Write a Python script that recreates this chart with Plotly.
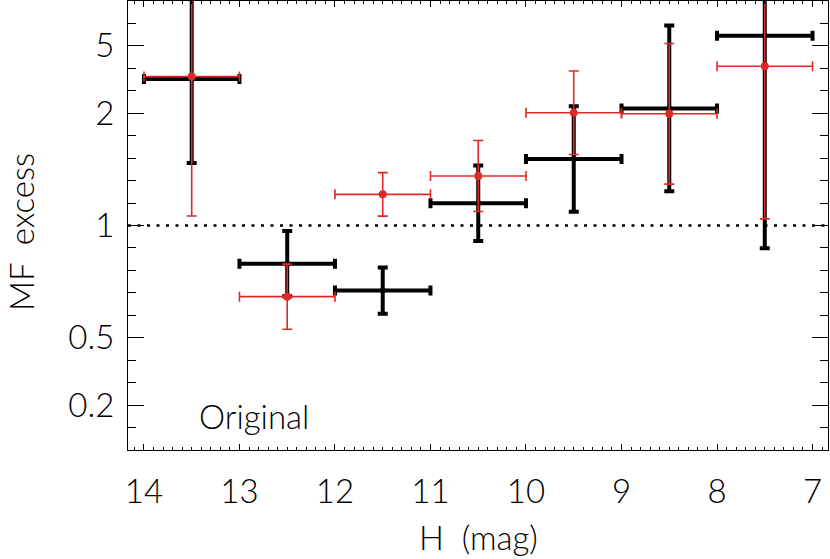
import plotly.graph_objects as go

# ---- data ----
H_bins = [13.5, 12.5, 11.5, 10.5, 9.5, 8.5, 7.5]        # bin centres (mag)
H_halfwidth = [0.5, 0.5, 0.5, 0.5, 0.5, 0.5, 0.5]          # half bin width (mag)

black_mf = [2.88, 0.83, 0.71, 1.11, 1.42, 2.09, 6.47]      # MF excess, black series
black_err = [0.374, 0.145, 0.103, 0.168, 0.235, 0.369, 0.947]  # error in plotted (axis) units

red_mf = [2.97, 0.683, 1.161, 1.283, 2.01, 1.99, 3.44]     # MF excess, red series
red_err = [0.621, 0.145, 0.097, 0.158, 0.186, 0.313, 0.680]   # error in plotted (axis) units

ytick_values = [0.2, 0.5, 1, 2, 5]
ytick_labels = ["0.2", "0.5", "1", "2", "5"]
xtick_values = [14, 13, 12, 11, 10, 9, 8, 7]


def to_axis(v):
    """Axis scale of the original plot: x-1 below unity, 1-1/x above."""
    return 1.0 - 1.0 / v if v >= 1 else v - 1.0


FONT = "Lato"
WEIGHT = 300
RED = "#e02828"

fig = go.Figure()

fig.add_trace(go.Scatter(
    x=H_bins, y=[to_axis(v) for v in black_mf], mode="markers",
    marker=dict(color="black", size=6),
    error_x=dict(type="data", array=H_halfwidth, color="black", thickness=4, width=5),
    error_y=dict(type="data", array=black_err, color="black", thickness=4, width=5),
    showlegend=False, hoverinfo="skip",
))

fig.add_trace(go.Scatter(
    x=H_bins, y=[to_axis(v) for v in red_mf], mode="markers",
    marker=dict(color=RED, size=8),
    error_x=dict(type="data", array=H_halfwidth, color=RED, thickness=1.6, width=5),
    error_y=dict(type="data", array=red_err, color=RED, thickness=1.6, width=5),
    showlegend=False, hoverinfo="skip",
))

fig.add_shape(type="line", xref="paper", x0=0, x1=1, yref="y", y0=to_axis(1), y1=to_axis(1),
              line=dict(color="black", width=2.5, dash="3px,6.5px"), layer="below")

tf = dict(family=FONT, size=33, color="black", weight=WEIGHT)

fig.add_annotation(text="Original", xref="x", x=12.85, yref="paper", y=(450 - 416) / 449,
                   xanchor="center", yanchor="middle", showarrow=False, font=tf)
fig.add_annotation(text="H  (mag)", xref="paper", x=0.5, yref="paper", y=(450 - 537) / 449,
                   xanchor="center", yanchor="middle", showarrow=False, font=tf)
fig.add_annotation(text="MF  excess", xref="paper", x=(21 - 128) / 700.5, yref="paper",
                   y=(450 - 232) / 449,
                   xanchor="center", yanchor="middle", showarrow=False, textangle=-90, font=tf)

fig.update_layout(
    width=830, height=559,
    margin=dict(l=128, r=2, t=1, b=109, autoexpand=False),
    paper_bgcolor="white", plot_bgcolor="white",
    font=tf,
)

fig.update_xaxes(
    range=[14.167, 6.838], tickmode="array", tickvals=xtick_values,
    ticks="inside", ticklen=6, tickwidth=1, tickcolor="black",
    showline=True, linecolor="black", linewidth=1.2, mirror="ticks",
    showgrid=False, zeroline=False, ticklabelstandoff=12, automargin=False,
    tickfont=tf,
    minor=dict(tickmode="linear", tick0=0, dtick=0.1, ticks="inside", ticklen=3,
               tickcolor="black", tickwidth=1, showgrid=False),
)

fig.update_yaxes(
    range=[-1, 1], tickmode="array", tickvals=[to_axis(v) for v in ytick_values],
    ticktext=ytick_labels,
    ticks="inside", ticklen=16, tickwidth=1, tickcolor="black",
    showline=True, linecolor="black", linewidth=1.2, mirror="ticks",
    showgrid=False, zeroline=False, ticklabelstandoff=6, automargin=False,
    tickfont=tf,
    minor=dict(tickmode="linear", tick0=0, dtick=0.1, ticks="inside", ticklen=8,
               tickcolor="black", tickwidth=1, showgrid=False),
)

fig.write_html("out.html", config={"displayModeBar": False},
               post_script="document.body.style.margin='0';")
